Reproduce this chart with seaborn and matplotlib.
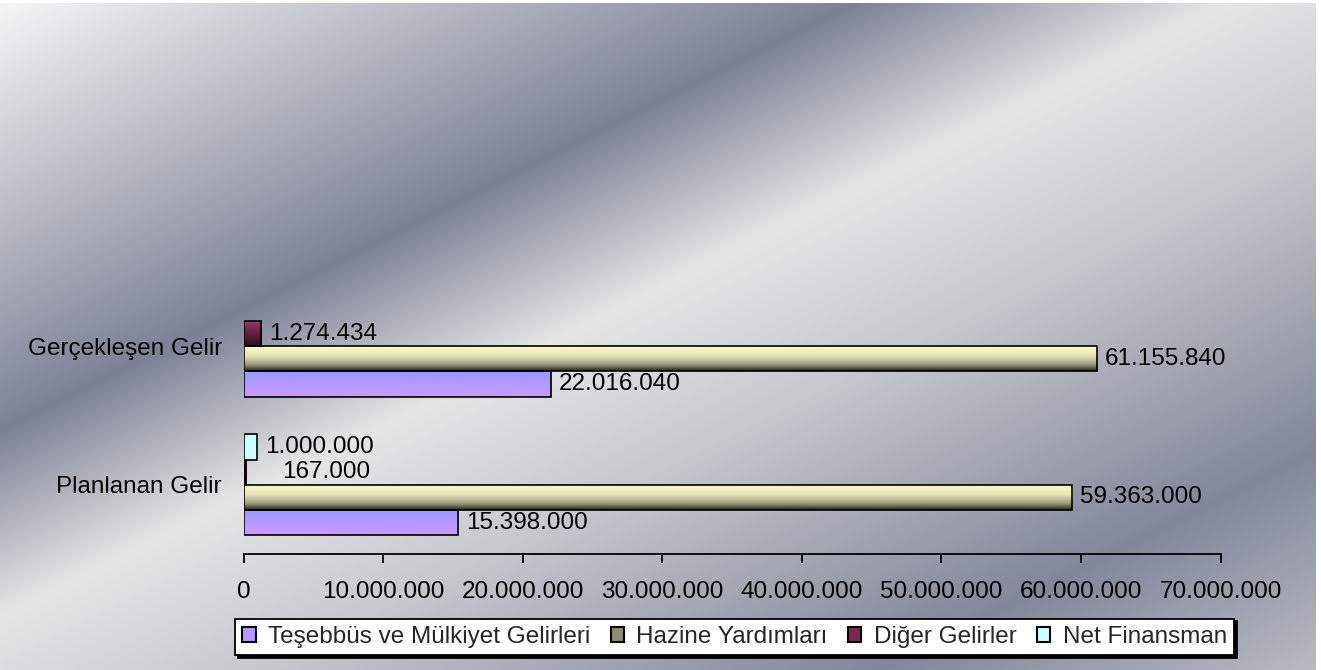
import matplotlib
matplotlib.use("Agg")
import matplotlib.pyplot as plt
import numpy as np
import pandas as pd
import seaborn as sns
from matplotlib.colors import LinearSegmentedColormap, to_rgb
from matplotlib.patches import Patch
from matplotlib.ticker import FuncFormatter

CATEGORIES = ["Gerçekleşen Gelir", "Planlanan Gelir"]
SERIES = ["Teşebbüs ve Mülkiyet Gelirleri", "Hazine Yardımları",
          "Diğer Gelirler", "Net Finansman"]
TESEBBUS = [22016040, 15398000]
HAZINE = [61155840, 59363000]
DIGER = [1274434, 167000]
NET_FINANSMAN = [np.nan, 1000000]
X_TICKS = [0, 10000000, 20000000, 30000000, 40000000, 50000000, 60000000,
           70000000]

# vertical fills of the bars, top -> bottom
FILLS = {
    "Teşebbüs ve Mülkiyet Gelirleri": ([0, 1], ["#9999ff", "#cc99ff"]),
    "Hazine Yardımları": ([0, 0.4, 0.75, 1],
                          ["#fbfbcc", "#e6e6b8", "#9c9c80", "#262620"]),
    "Diğer Gelirler": ([0, 1], ["#9e3568", "#2e0e20"]),
    "Net Finansman": ([0, 1], ["#ccffff", "#ccffff"]),
}
LEGEND_COLORS = ["#b399ff", "#8c8c70", "#7a2850", "#ccffff"]

# metallic background, stops along x + 2y (pixels)
BG_T = [0, 380, 860, 1230, 1600, 2220, 2660]
BG_COLORS = ["#f5f5f5", "#c0c3cb", "#7c8196", "#e6e6e6", "#c6c8ce",
             "#82879a", "#b8bbc4"]

FS = 17.5

sns.set_theme(style="white")
plt.rcParams["font.family"] = ["Liberation Sans", "DejaVu Sans"]


def dotted(v, _=None):
    """Turkish thousands separator."""
    return f"{int(round(v)):,}".replace(",", ".")


def gradient_fill(ax, patch, stops, colors):
    """Replace a bar's flat face with a top-to-bottom gradient."""
    cmap = LinearSegmentedColormap.from_list("bar", list(zip(stops, colors)))
    x0, y0 = patch.get_x(), patch.get_y()
    w, h = patch.get_width(), patch.get_height()
    img = ax.imshow(np.linspace(0, 1, 64).reshape(-1, 1), cmap=cmap,
                    aspect="auto", origin="upper", interpolation="bilinear",
                    extent=(x0, x0 + w, y0 + h, y0),
                    zorder=patch.get_zorder() - 0.5)
    img.set_clip_path(patch)
    patch.set_facecolor("none")


def main():
    W, H = 1321, 670
    fig = plt.figure(figsize=(W / 100, H / 100), dpi=100, facecolor="white")

    # Background
    yy, xx = np.mgrid[0:H, 0:W]
    t = xx + 2 * yy
    rgb = [to_rgb(c) for c in BG_COLORS]
    bg = np.dstack([np.interp(t, BG_T, [c[k] for c in rgb]) for k in range(3)])
    bg_ax = fig.add_axes([0, 0, 1316 / W, 667 / H], zorder=-10)
    bg_ax.imshow(bg, aspect="auto", interpolation="bilinear")
    bg_ax.axis("off")

    # Data
    df = pd.DataFrame({
        "kategori": CATEGORIES * 4,
        "seri": np.repeat(SERIES, len(CATEGORIES)),
        "deger": TESEBBUS + HAZINE + DIGER + NET_FINANSMAN,
    }).dropna()
    draw_order = SERIES[::-1]  # Net Finansman on top within each group

    ax = fig.add_axes([243.5 / W, 116 / H, 977 / W, 277 / H])
    ax.patch.set_alpha(0)
    sns.barplot(data=df, y="kategori", x="deger", hue="seri", orient="h",
                order=CATEGORIES, hue_order=draw_order, width=0.728,
                palette=dict(zip(SERIES, LEGEND_COLORS)), saturation=1,
                edgecolor="black", linewidth=1.2, errorbar=None,
                legend=False, ax=ax)

    for container, name in zip(ax.containers, draw_order):
        stops, colors = FILLS[name]
        for patch in container:
            gradient_fill(ax, patch, stops, colors)
            val = patch.get_width()
            yc = patch.get_y() + patch.get_height() / 2
            # Excel pushed the label of the tiny bar further right
            shift = 26 if val < 500000 else 5.5
            ax.annotate(dotted(val), (val, yc), xytext=(shift, 0),
                        textcoords="offset points", ha="left", va="center",
                        fontsize=FS, color="black")

    # Axes
    ax.set_xlim(0, X_TICKS[-1])
    ax.set_ylim(1.5, -0.5)
    ax.set_xticks(X_TICKS)
    ax.xaxis.set_major_formatter(FuncFormatter(dotted))
    ax.set(xlabel="", ylabel="")
    ax.tick_params(axis="x", bottom=True, direction="out", length=6.2,
                   width=1.3, color="black", pad=13, labelsize=FS,
                   labelcolor="black")
    ax.tick_params(axis="y", left=False, length=0, pad=15.5, labelsize=FS,
                   labelcolor="black")
    sns.despine(ax=ax, left=True)
    ax.spines["bottom"].set_color("black")
    ax.spines["bottom"].set_linewidth(1.3)

    # Legend
    handles = [Patch(facecolor=c, edgecolor="black", linewidth=1.5)
               for c in LEGEND_COLORS]
    leg = fig.legend(handles, SERIES, loc="center",
                     bbox_to_anchor=(0.556, 0.0493), ncol=4, fontsize=FS,
                     frameon=True, fancybox=False,
                     shadow={"color": "black", "alpha": 1},
                     edgecolor="black", facecolor="white", framealpha=1,
                     handlelength=0.55, handleheight=0.55,
                     handletextpad=0.5, columnspacing=0.85, borderpad=0.3)
    leg.get_frame().set_linewidth(1.3)

    fig.savefig("out.png", dpi=100)
    plt.close(fig)


if __name__ == '__main__':
    main()
